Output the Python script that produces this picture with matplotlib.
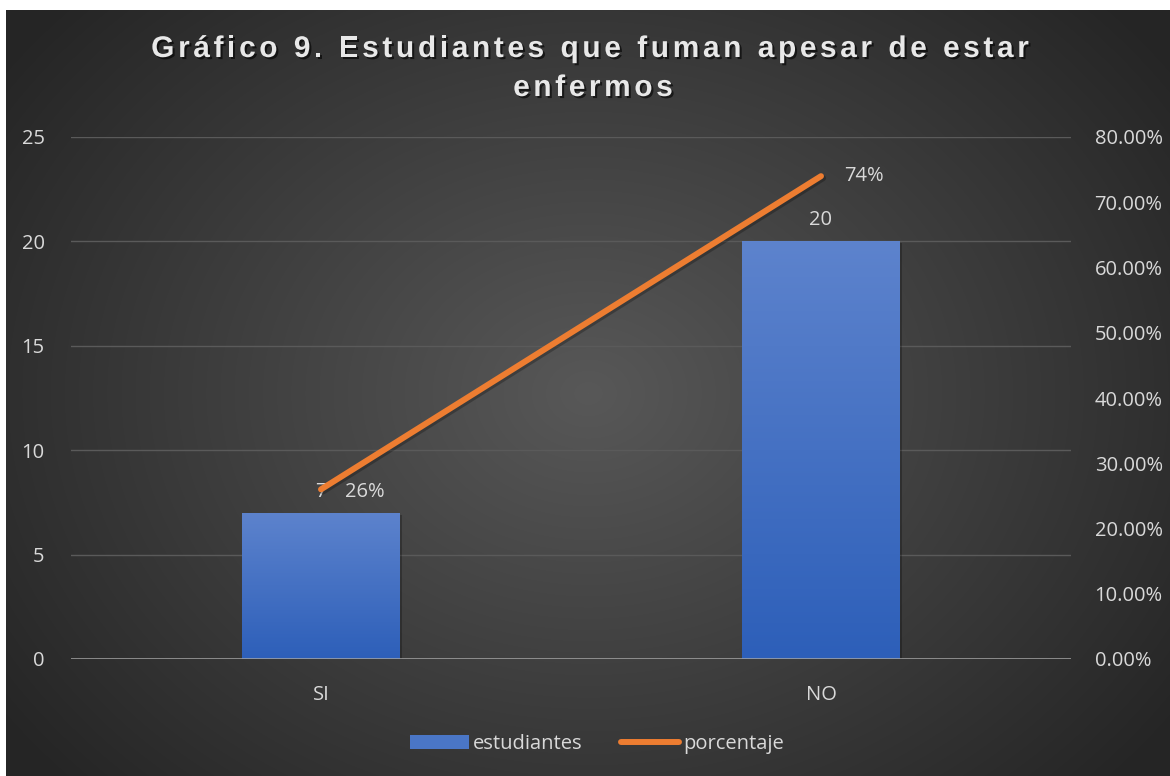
import numpy as np
import matplotlib
matplotlib.use("Agg")
import matplotlib.pyplot as plt
import matplotlib.patheffects as pe
from matplotlib.ticker import FixedLocator, FuncFormatter
from matplotlib.colors import LinearSegmentedColormap
from matplotlib.patches import Patch
from matplotlib.lines import Line2D

categories = ["SI", "NO"]
estudiantes = [7, 20]
porcentaje = [0.26, 0.74]
pct_labels = ["26%", "74%"]
left_ticks = [0, 5, 10, 15, 20, 25]
right_ticks = [0.0, 0.1, 0.2, 0.3, 0.4, 0.5, 0.6, 0.7, 0.8]
title_lines = ["Gráfico 9. Estudiantes que fuman apesar de estar", "enfermos"]

W, H = 1170, 776
fig = plt.figure(figsize=(W / 100, H / 100), dpi=100)
fig.patch.set_facecolor("white")

# background radial gradient in the chart area
bx0, by0 = 6, 10
bg = fig.add_axes([bx0 / W, 0, 1 - bx0 / W, 1 - by0 / H])
bg.set_axis_off()
gw, gh = W - bx0, H - by0
yy, xx = np.mgrid[0:gh, 0:gw]
cx, cy = gw * 0.5, gh * 0.5
r = np.sqrt(((xx - cx) / (gw * 0.62)) ** 2 + ((yy - cy) / (gh * 0.75)) ** 2)
r = np.clip(r, 0, 1)
c_in = np.array([0x58, 0x58, 0x58]) / 255
c_out = np.array([0x25, 0x25, 0x25]) / 255
img = c_in[None, None, :] * (1 - r[..., None]) + c_out[None, None, :] * r[..., None]
bg.imshow(img, aspect="auto", extent=[0, 1, 0, 1], interpolation="bilinear")
bg.set_xlim(0, 1)
bg.set_ylim(0, 1)

txt = "#d9d9d9"
font = "Open Sans"
fs = 14.5

ax = fig.add_axes([71 / W, 1 - 659 / H, 1000 / W, (659 - 137) / H])
ax.set_facecolor("none")
x = np.arange(len(categories))
bw = 0.316
bars = ax.bar(x, estudiantes, width=bw, color="#4472c4", zorder=3,
              path_effects=[pe.SimplePatchShadow(offset=(1.5, -1.5), shadow_rgbFace="black", alpha=0.25), pe.Normal()])
grad = np.linspace(0, 1, 256)[:, None]
cmap = LinearSegmentedColormap.from_list("bg", ["#5d83cd", "#2d5fb9"])
for b in bars:
    im = ax.imshow(grad, cmap=cmap, aspect="auto", origin="upper",
                   extent=[b.get_x(), b.get_x() + b.get_width(), 0, b.get_height()],
                   zorder=3.1)
    im.set_clip_path(b)
ax.set_ylim(0, 25)
ax.set_xlim(-0.5, 1.5)

ax.yaxis.set_major_locator(FixedLocator(left_ticks))
for t in left_ticks[1:]:
    ax.axhline(t, color="#5a5a5a", lw=1.0, zorder=1)
ax.axhline(0, color="#a6a6a6", lw=1.8, zorder=4)
for s in ax.spines.values():
    s.set_visible(False)
ax.set_xticks(x)
ax.set_xticklabels(categories)
ax.tick_params(axis="both", length=0, colors=txt, labelsize=fs)
ax.tick_params(axis="y", pad=19)
ax.tick_params(axis="x", pad=19)
for lab in ax.get_xticklabels() + ax.get_yticklabels():
    lab.set_fontfamily(font)
    lab.set_color(txt)

for xi, v in zip(x, estudiantes):
    ax.annotate(str(v), (xi, v), xytext=(0, 8), textcoords="offset points",
                ha="center", va="bottom", color=txt, fontsize=fs, family=font, zorder=6)

ax2 = ax.twinx()
ax2.set_ylim(0, 0.8)
ax2.set_xlim(-0.5, 1.5)
ax2.yaxis.set_major_locator(FixedLocator(right_ticks))
ax2.yaxis.set_major_formatter(FuncFormatter(lambda v, p: f"{v*100:.2f}%"))
ax2.tick_params(axis="y", length=0, colors=txt, labelsize=fs, pad=17)
for lab in ax2.get_yticklabels():
    lab.set_fontfamily(font)
for s in ax2.spines.values():
    s.set_visible(False)
ax2.plot(x, porcentaje, color="#ed7d31", lw=4.3, solid_capstyle="round", zorder=5,
         path_effects=[pe.SimpleLineShadow(offset=(1.5, -1.5), shadow_color="black", alpha=0.25), pe.Normal()])
for xi, v, l in zip(x, porcentaje, pct_labels):
    ax2.annotate(l, (xi, v), xytext=(17, -2 if xi == 0 else 0), textcoords="offset points",
                 ha="left", va="center", color=txt, fontsize=fs, family=font)

# legend
handles = [Patch(facecolor="#4a76c6", edgecolor="none"),
           Line2D([0], [0], color="#ed7d31", lw=4.3, solid_capstyle="round")]
leg = fig.legend(handles, ["estudiantes", "porcentaje"], loc="center",
                 bbox_to_anchor=(597 / W, 1 - 744 / H), ncol=2, frameon=False,
                 prop={"family": font, "size": fs}, handlelength=2.9, handleheight=0.7,
                 handletextpad=0.2, columnspacing=1.9)
for t in leg.get_texts():
    t.set_color(txt)

# title with letter spacing, drawn char by char
fig.canvas.draw()
renderer = fig.canvas.get_renderer()
def spaced_text(s, cx_px, cy_px, size, track):
    props = dict(fontsize=size, fontweight="bold", family="Liberation Sans", color="#e8e8e8",
                 va="center", ha="left")
    widths = []
    for ch in s:
        t = fig.text(0, 0, "a" if ch == " " else ch, **props)
        w = t.get_window_extent(renderer).width
        t.remove()
        widths.append(w * 0.55 if ch == " " else w)
    total = sum(widths) + track * (len(s) - 1)
    xcur = cx_px - total / 2
    for ch, w in zip(s, widths):
        if ch != " ":
            fig.text(xcur / W, 1 - cy_px / H, ch, **props,
                     path_effects=[pe.withSimplePatchShadow(offset=(1.5, -1.5), shadow_rgbFace="black", alpha=0.6)])
        xcur += w + track

spaced_text(title_lines[0], 590, 49, 21.5, 3.6)
spaced_text(title_lines[1], 593, 88, 21.5, 3.6)

fig.savefig("out.png", dpi=100, facecolor=fig.get_facecolor())
